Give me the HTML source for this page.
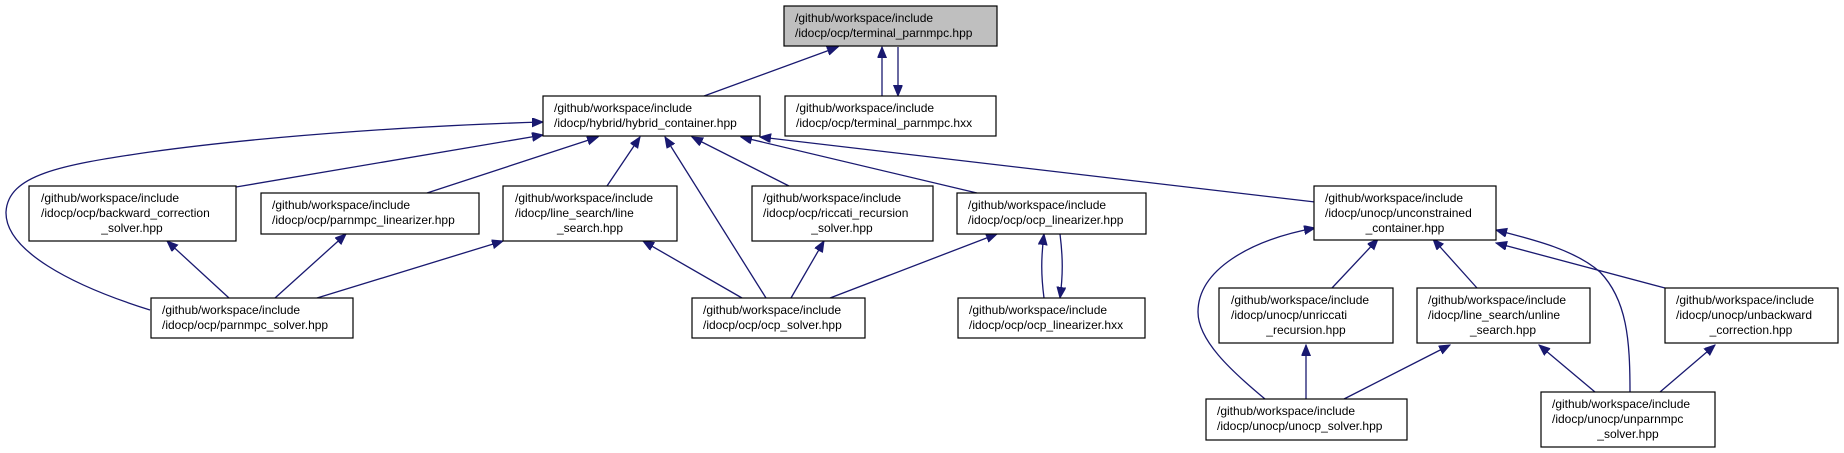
<!DOCTYPE html>
<html><head><meta charset="utf-8"><style>
html,body{margin:0;padding:0;background:#fff;width:1844px;height:453px;overflow:hidden}
svg text{font-family:"Liberation Sans",Arial,sans-serif;font-size:12px;fill:#000}
.e{fill:none;stroke:#191970;stroke-width:1.3;marker-end:url(#a)}
.b{fill:#fff;stroke:#000;stroke-width:1.2}
</style></head><body>
<svg width="1844" height="453" viewBox="0 0 1844 453" xmlns="http://www.w3.org/2000/svg">
<defs><marker id="a" markerUnits="userSpaceOnUse" markerWidth="12" markerHeight="10" refX="11" refY="4.5" orient="auto"><path d="M0,0 L11,4.5 L0,9 z" fill="#191970" stroke="#191970"/></marker></defs>

<!-- edges -->
<path class="e" d="M704,96 L838,47"/>
<path class="e" d="M882,96 L882,47"/>
<path class="e" d="M898,47 L898,96"/>
<path class="e" d="M236,187 L543,135"/>
<path class="e" d="M427,193 L598,137"/>
<path class="e" d="M607,186 L640,137"/>
<path class="e" d="M766,298 L665,137"/>
<path class="e" d="M789,186 L692,137"/>
<path class="e" d="M977,193 L741,137"/>
<path class="e" d="M1315,202 L760,137"/>
<path class="e" d="M150,310 C70,285 5,250 6,212 C8,175 60,165 150,152 C280,134 440,125 543,122"/>
<path class="e" d="M229,298 L167,241"/>
<path class="e" d="M275,298 L346,234"/>
<path class="e" d="M317,298 L503,241"/>
<path class="e" d="M742,298 L643,241"/>
<path class="e" d="M791,298 L824,241"/>
<path class="e" d="M830,298 L997,234"/>
<path class="e" d="M1044,298 C1041,275 1041,258 1044,234"/>
<path class="e" d="M1060,234 C1063,258 1063,275 1060,298"/>
<path class="e" d="M1332,288 L1378,239"/>
<path class="e" d="M1477,288 L1433,239"/>
<path class="e" d="M1665,288 L1496,243"/>
<path class="e" d="M1265,399 C1230,370 1198,340 1198,312 C1198,270 1250,240 1315,228"/>
<path class="e" d="M1306,399 L1306,345"/>
<path class="e" d="M1344,399 L1450,345"/>
<path class="e" d="M1595,392 L1539,345"/>
<path class="e" d="M1630,392 C1630,340 1627,300 1600,272 C1575,250 1535,240 1496,230"/>
<path class="e" d="M1660,392 L1715,345"/>

<!-- nodes -->
<rect x="784" y="6" width="213" height="40" fill="#bfbfbf" stroke="#000" stroke-width="1.2"/>
<text x="795" y="22">/github/workspace/include</text><text x="795" y="37">/idocp/ocp/terminal_parnmpc.hpp</text>

<rect class="b" x="543" y="96" width="217" height="40"/>
<text x="554" y="112">/github/workspace/include</text><text x="554" y="127">/idocp/hybrid/hybrid_container.hpp</text>

<rect class="b" x="785" y="96" width="211" height="40"/>
<text x="796" y="112">/github/workspace/include</text><text x="796" y="127">/idocp/ocp/terminal_parnmpc.hxx</text>

<rect class="b" x="29" y="186" width="207" height="55"/>
<text x="41" y="202">/github/workspace/include</text><text x="41" y="217">/idocp/ocp/backward_correction</text><text x="132" y="232" text-anchor="middle">_solver.hpp</text>

<rect class="b" x="261" y="193" width="218" height="41"/>
<text x="272" y="209">/github/workspace/include</text><text x="272" y="224">/idocp/ocp/parnmpc_linearizer.hpp</text>

<rect class="b" x="503" y="186" width="174" height="55"/>
<text x="515" y="202">/github/workspace/include</text><text x="515" y="217">/idocp/line_search/line</text><text x="590" y="232" text-anchor="middle">_search.hpp</text>

<rect class="b" x="752" y="186" width="181" height="55"/>
<text x="763" y="202">/github/workspace/include</text><text x="763" y="217">/idocp/ocp/riccati_recursion</text><text x="842" y="232" text-anchor="middle">_solver.hpp</text>

<rect class="b" x="957" y="193" width="189" height="41"/>
<text x="968" y="209">/github/workspace/include</text><text x="968" y="224">/idocp/ocp/ocp_linearizer.hpp</text>

<rect class="b" x="1314" y="186" width="182" height="54"/>
<text x="1325" y="202">/github/workspace/include</text><text x="1325" y="217">/idocp/unocp/unconstrained</text><text x="1405" y="232" text-anchor="middle">_container.hpp</text>

<rect class="b" x="151" y="298" width="202" height="40"/>
<text x="162" y="314">/github/workspace/include</text><text x="162" y="329">/idocp/ocp/parnmpc_solver.hpp</text>

<rect class="b" x="692" y="298" width="173" height="40"/>
<text x="703" y="314">/github/workspace/include</text><text x="703" y="329">/idocp/ocp/ocp_solver.hpp</text>

<rect class="b" x="958" y="298" width="187" height="40"/>
<text x="969" y="314">/github/workspace/include</text><text x="969" y="329">/idocp/ocp/ocp_linearizer.hxx</text>

<rect class="b" x="1219" y="288" width="174" height="55"/>
<text x="1231" y="304">/github/workspace/include</text><text x="1231" y="319">/idocp/unocp/unriccati</text><text x="1306" y="334" text-anchor="middle">_recursion.hpp</text>

<rect class="b" x="1417" y="288" width="173" height="55"/>
<text x="1428" y="304">/github/workspace/include</text><text x="1428" y="319">/idocp/line_search/unline</text><text x="1503" y="334" text-anchor="middle">_search.hpp</text>

<rect class="b" x="1665" y="288" width="173" height="55"/>
<text x="1676" y="304">/github/workspace/include</text><text x="1676" y="319">/idocp/unocp/unbackward</text><text x="1751" y="334" text-anchor="middle">_correction.hpp</text>

<rect class="b" x="1206" y="399" width="201" height="41"/>
<text x="1217" y="415">/github/workspace/include</text><text x="1217" y="430">/idocp/unocp/unocp_solver.hpp</text>

<rect class="b" x="1541" y="392" width="174" height="55"/>
<text x="1552" y="408">/github/workspace/include</text><text x="1552" y="423">/idocp/unocp/unparnmpc</text><text x="1628" y="438" text-anchor="middle">_solver.hpp</text>
</svg>
</body></html>
